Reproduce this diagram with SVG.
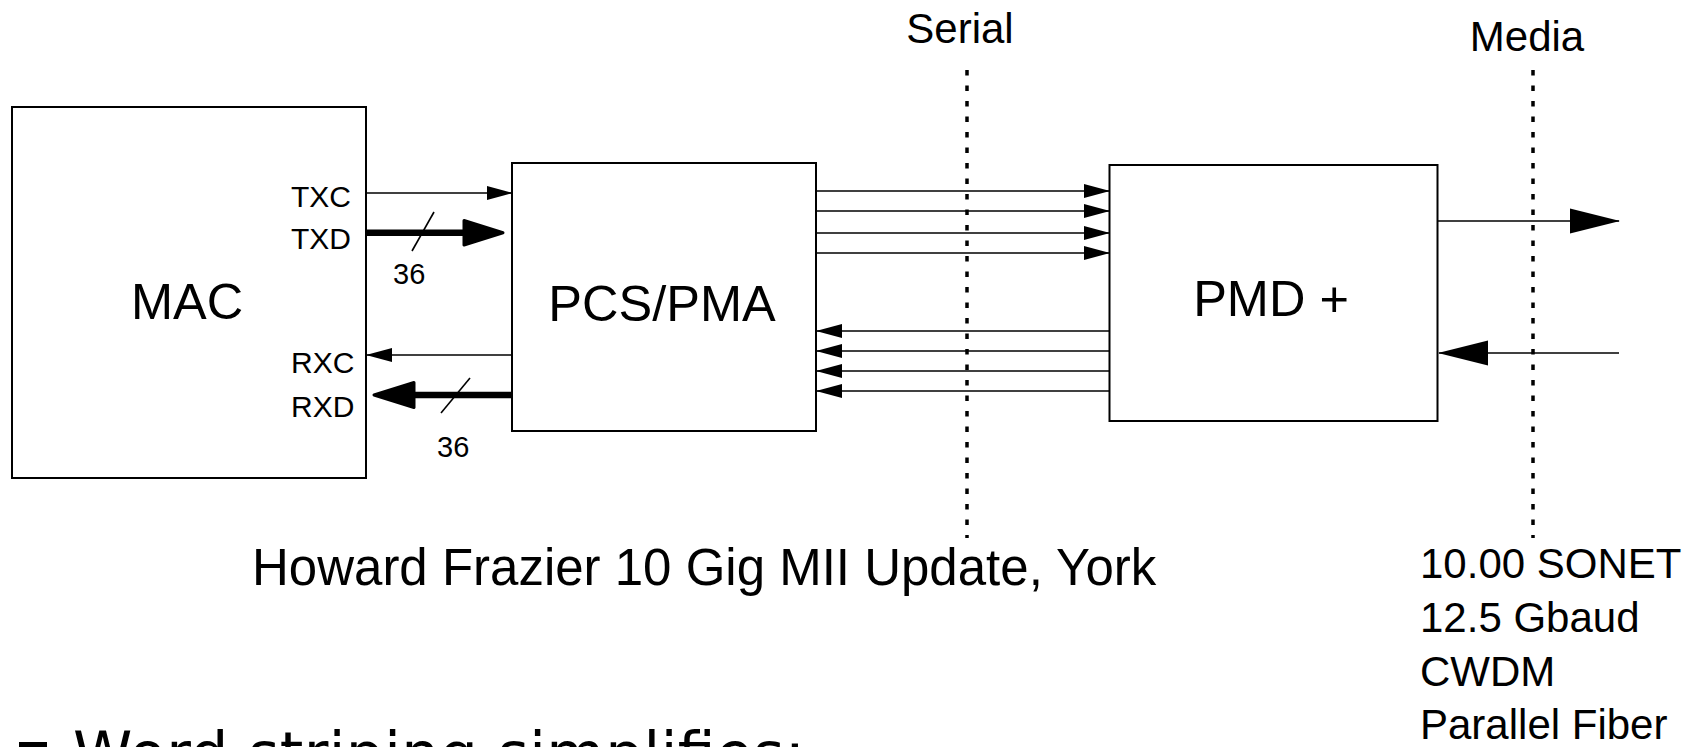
<svg xmlns="http://www.w3.org/2000/svg" width="1697" height="747" viewBox="0 0 1697 747">
<defs>
<style>
.box{fill:#fff;stroke:#000;stroke-width:2}
.lbl{font-family:"Liberation Sans",Arial,sans-serif;fill:#000}
.big{font-size:50.5px;text-anchor:middle}
.sig{font-size:30px}
.num{font-size:29px}
.hdr{font-size:42px;text-anchor:middle}
.med{font-size:42px}
.thin{stroke:#000;stroke-width:1.6;fill:none}
.thick{stroke:#000;stroke-width:6.5;fill:none}
.head{fill:#000;stroke:#000;stroke-width:3;stroke-linejoin:round}
.slash{stroke:#000;stroke-width:1.6}
.dot{stroke:#000;stroke-width:3.5;stroke-dasharray:5.5 10;fill:none}
</style>
<marker id="ah" markerUnits="userSpaceOnUse" markerWidth="26" markerHeight="16" viewBox="0 0 26 16" refX="25" refY="8" orient="auto">
<path d="M0,1 L26,8 L0,15 z" fill="#000"/>
</marker>
<marker id="ahL" markerUnits="userSpaceOnUse" markerWidth="50" markerHeight="26" viewBox="0 0 50 26" refX="49" refY="13" orient="auto">
<path d="M0,0.5 L50,13 L0,25.5 z" fill="#000"/>
</marker>
</defs>
<rect width="1697" height="747" fill="#fff"/>

<g id="mac">
<rect class="box" x="12" y="107" width="354" height="371"/>
<text class="lbl big" x="187" y="319">MAC</text>
<text class="lbl sig" x="291" y="207">TXC</text>
<text class="lbl sig" x="291" y="248.5">TXD</text>
<text class="lbl sig" x="291" y="373">RXC</text>
<text class="lbl sig" x="291" y="416.5">RXD</text>
</g>

<g id="pcs-pma">
<rect class="box" x="512" y="163" width="304" height="268"/>
<text class="lbl big" x="662" y="321">PCS/PMA</text>
</g>

<g id="pmd">
<rect class="box" x="1109.5" y="165" width="328" height="256"/>
<text class="lbl big" x="1271" y="316">PMD +</text>
</g>

<g id="serial">
<text class="lbl hdr" x="960" y="43">Serial</text>
<line class="dot" x1="967" y1="70" x2="967" y2="538"/>
</g>

<g id="media">
<text class="lbl hdr" x="1527" y="51">Media</text>
<line class="dot" x1="1533" y1="70" x2="1533" y2="538"/>
<text class="lbl med" x="1420" y="578">10.00 SONET</text>
<text class="lbl med" x="1420" y="632">12.5 Gbaud</text>
<text class="lbl med" x="1420" y="686">CWDM</text>
<text class="lbl med" x="1420" y="739">Parallel Fiber</text>
</g>

<g id="connectors">
<line class="thin" x1="367" y1="193" x2="512" y2="193" marker-end="url(#ah)"/>
<line class="thin" x1="512" y1="355" x2="367" y2="355" marker-end="url(#ah)"/>
<line class="thick" x1="367" y1="232.7" x2="468" y2="232.7"/>
<polygon class="head" points="464,220.5 503,232.7 464,245"/>
<line class="slash" x1="434" y1="212" x2="412" y2="251"/>
<text class="lbl num" x="393" y="284">36</text>
<line class="thick" x1="512" y1="395" x2="410" y2="395"/>
<polygon class="head" points="414,382.5 374,395 414,407.5"/>
<line class="slash" x1="470" y1="378" x2="441" y2="413"/>
<text class="lbl num" x="437" y="457">36</text>
<line class="thin" x1="817" y1="191" x2="1109" y2="191" marker-end="url(#ah)"/>
<line class="thin" x1="817" y1="211" x2="1109" y2="211" marker-end="url(#ah)"/>
<line class="thin" x1="817" y1="233" x2="1109" y2="233" marker-end="url(#ah)"/>
<line class="thin" x1="817" y1="253" x2="1109" y2="253" marker-end="url(#ah)"/>
<line class="thin" x1="1109" y1="331" x2="817" y2="331" marker-end="url(#ah)"/>
<line class="thin" x1="1109" y1="351" x2="817" y2="351" marker-end="url(#ah)"/>
<line class="thin" x1="1109" y1="371" x2="817" y2="371" marker-end="url(#ah)"/>
<line class="thin" x1="1109" y1="391" x2="817" y2="391" marker-end="url(#ah)"/>
<line class="thin" x1="1438" y1="221" x2="1619" y2="221" marker-end="url(#ahL)"/>
<line class="thin" x1="1619" y1="353" x2="1439" y2="353" marker-end="url(#ahL)"/>
</g>

<g id="footer">
<text class="lbl" x="252" y="585" font-size="51">Howard Frazier 10 Gig MII Update, York</text>
<rect x="19" y="742" width="28" height="28" fill="#000"/>
<text x="73" y="775" font-family="'DejaVu Sans',Verdana,sans-serif" font-size="60" textLength="732" fill="#000">Word striping simplifies:</text>
</g>
</svg>
